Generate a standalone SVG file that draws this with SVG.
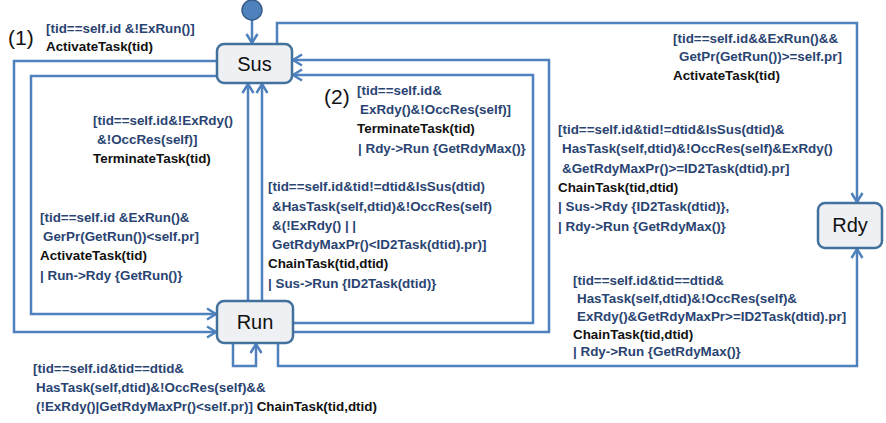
<svg xmlns="http://www.w3.org/2000/svg" width="886" height="423" viewBox="0 0 886 423">
<style>
.conn{fill:none;stroke:#4f81bd;stroke-width:2.5}
.node{fill:#eef0f4;stroke:#41719c;stroke-width:2.5}
.nt{font-family:"Liberation Sans",Arial,sans-serif;font-size:20px;fill:#111;text-anchor:middle}
.num{font-family:"Liberation Sans",Arial,sans-serif;font-size:21px;fill:#111}
.lb{font-family:"Liberation Sans",Arial,sans-serif;font-size:13.4px;font-weight:bold}
.g{fill:#2a4472}
.a{fill:#111}
</style>
<defs>
<marker id="arr" markerUnits="userSpaceOnUse" markerWidth="14" markerHeight="14" viewBox="0 0 14 14" refX="12" refY="7" orient="auto">
<path d="M3,1.5 L12,7 L3,12.5" fill="none" stroke="#4f81bd" stroke-width="2.5"/>
</marker>
</defs>
<rect width="886" height="423" fill="#fff"/>
<g id="connectors">
<path class="conn" d="M252,20 V43" marker-end="url(#arr)"/>
<path class="conn" d="M217,61 H14 V332 H216" marker-end="url(#arr)"/>
<path class="conn" d="M217,76 H31 V314 H216" marker-end="url(#arr)"/>
<path class="conn" d="M248,301 V84" marker-end="url(#arr)"/>
<path class="conn" d="M262,301 V84" marker-end="url(#arr)"/>
<path class="conn" d="M293,323 H533 V75 H293" marker-end="url(#arr)"/>
<path class="conn" d="M293,332 H549 V60 H293" marker-end="url(#arr)"/>
<path class="conn" d="M277,44 V23 H857 V202" marker-end="url(#arr)"/>
<path class="conn" d="M278,343 V366 H857 V249" marker-end="url(#arr)"/>
<path class="conn" d="M233,343 V366 H256 V344" marker-end="url(#arr)"/>
</g>
<g id="init"><circle cx="252" cy="10" r="10" fill="#4f81bd" stroke="#385d8a" stroke-width="1.5"/></g>
<g id="Sus"><rect class="node" x="217" y="44" width="75" height="39" rx="7"/><text class="nt" x="254.5" y="71">Sus</text></g>
<g id="Run"><rect class="node" x="217" y="301" width="76" height="42" rx="7"/><text class="nt" x="255" y="329">Run</text></g>
<g id="Rdy"><rect class="node" x="818" y="203" width="64" height="45" rx="7"/><text class="nt" x="850" y="232">Rdy</text></g>
<g id="labels">
<text class="num" x="8" y="45">(1)</text>
<text class="lb g" x="46" y="33">[tid==self.id &amp;!ExRun()]</text>
<text class="lb a" x="46" y="51">ActivateTask(tid)</text>

<text class="lb g" x="673" y="43">[tid==self.id&amp;&amp;ExRun()&amp;&amp;</text>
<text class="lb g" x="679" y="61">GetPr(GetRun())&gt;=self.pr]</text>
<text class="lb a" x="673" y="80">ActivateTask(tid)</text>

<text class="lb g" x="93" y="125">[tid==self.id&amp;!ExRdy()</text>
<text class="lb g" x="97" y="144">&amp;!OccRes(self)]</text>
<text class="lb a" x="93" y="163">TerminateTask(tid)</text>

<text class="lb g" x="40" y="222">[tid==self.id &amp;ExRun()&amp;</text>
<text class="lb g" x="43" y="241">GerPr(GetRun())&lt;self.pr]</text>
<text class="lb a" x="40" y="260">ActivateTask(tid)</text>
<text class="lb g" x="40" y="280">| Run-&gt;Rdy  {GetRun()}</text>

<text class="num" x="324" y="104">(2)</text>
<text class="lb g" x="357" y="95">[tid==self.id&amp;</text>
<text class="lb g" x="360" y="114">ExRdy()&amp;!OccRes(self)]</text>
<text class="lb a" x="357" y="133">TerminateTask(tid)</text>
<text class="lb g" x="358" y="153">| Rdy-&gt;Run {GetRdyMax()}</text>

<text class="lb g" x="268" y="191">[tid==self.id&amp;tid!=dtid&amp;IsSus(dtid)</text>
<text class="lb g" x="272" y="211">&amp;HasTask(self,dtid)&amp;!OccRes(self)</text>
<text class="lb g" x="272" y="230">&amp;(!ExRdy() | |</text>
<text class="lb g" x="272" y="249">GetRdyMaxPr()&lt;ID2Task(dtid).pr)]</text>
<text class="lb a" x="268" y="268">ChainTask(tid,dtid)</text>
<text class="lb g" x="268" y="288">| Sus-&gt;Run {ID2Task(dtid)}</text>

<text class="lb g" x="558" y="134">[tid==self.id&amp;tid!=dtid&amp;IsSus(dtid)&amp;</text>
<text class="lb g" x="562" y="153">HasTask(self,dtid)&amp;!OccRes(self)&amp;ExRdy()</text>
<text class="lb g" x="562" y="173">&amp;GetRdyMaxPr()&gt;=ID2Task(dtid).pr]</text>
<text class="lb a" x="558" y="192">ChainTask(tid,dtid)</text>
<text class="lb g" x="558" y="211">| Sus-&gt;Rdy {ID2Task(dtid)},</text>
<text class="lb g" x="558" y="231">| Rdy-&gt;Run {GetRdyMax()}</text>

<text class="lb g" x="573" y="285">[tid==self.id&amp;tid==dtid&amp;</text>
<text class="lb g" x="577" y="303">HasTask(self,dtid)&amp;!OccRes(self)&amp;</text>
<text class="lb g" x="577" y="321">ExRdy()&amp;GetRdyMaxPr&gt;=ID2Task(dtid).pr]</text>
<text class="lb a" x="573" y="339">ChainTask(tid,dtid)</text>
<text class="lb g" x="573" y="356">| Rdy-&gt;Run {GetRdyMax()}</text>

<text class="lb g" x="33" y="373">[tid==self.id&amp;tid==dtid&amp;</text>
<text class="lb g" x="36" y="392">HasTask(self,dtid)&amp;!OccRes(self)&amp;&amp;</text>
<text class="lb" x="36" y="411"><tspan class="g">(!ExRdy()|GetRdyMaxPr()&lt;self.pr)]</tspan><tspan class="a"> ChainTask(tid,dtid)</tspan></text>
</g>
</svg>
